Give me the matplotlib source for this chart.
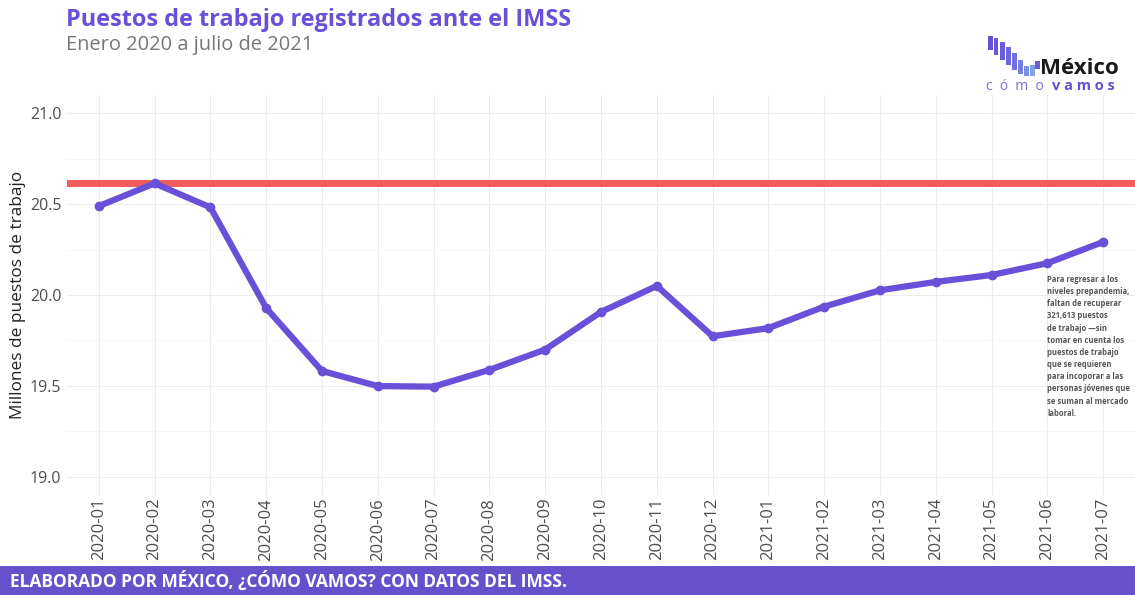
import matplotlib
matplotlib.use("Agg")
import matplotlib.pyplot as plt
from matplotlib.patches import Rectangle
import numpy as np

months = ["2020-01","2020-02","2020-03","2020-04","2020-05","2020-06","2020-07",
          "2020-08","2020-09","2020-10","2020-11","2020-12","2021-01","2021-02",
          "2021-03","2021-04","2021-05","2021-06","2021-07"]
empleos = [20.489, 20.614, 20.482, 19.928, 19.582, 19.499, 19.496, 19.588, 19.700,
           19.907, 20.050, 19.773, 19.818, 19.936, 20.026, 20.072, 20.110, 20.175, 20.292]
nivel_prepandemia = 20.6135
yticks = [19.0, 19.5, 20.0, 20.5, 21.0]

FONT = ["Open Sans", "DejaVu Sans"]
plt.rcParams["font.family"] = FONT

purple = "#6A4FD8"
red = "#F25C5C"
gray_txt = "#4d4d4d"

fig = plt.figure(figsize=(11.35, 5.95), dpi=100)
ax = fig.add_axes([67/1135, 100/595, 1 - 67/1135, 400/595])

x = np.arange(len(months))
ax.axhline(nivel_prepandemia, color=red, lw=5, zorder=2)
ax.plot(x, empleos, color=purple, lw=4.5, marker="o", ms=6, zorder=3,
        solid_capstyle="round", solid_joinstyle="round")

ax.set_xlim(-0.57, len(months) - 1 + 0.57)
ax.set_ylim(18.9, 21.1)
ax.set_xticks(x)
ax.set_xticklabels(months, rotation=90, fontsize=12, color=gray_txt)
ax.set_yticks(yticks)
ax.set_yticklabels([f"{v:.1f}" for v in yticks], fontsize=11.5, color=gray_txt)
ax.set_yticks([18.75 + 0.5 * i for i in range(1, 5)], minor=True)
ax.tick_params(axis="both", length=0, pad=4)
ax.tick_params(axis="x", pad=2)
ax.tick_params(axis="y", which="minor", length=0)
ax.grid(True, which="major", color="#ebebeb", lw=0.8)
ax.grid(True, which="minor", axis="y", color="#f5f5f5", lw=0.6)
for s in ax.spines.values():
    s.set_visible(False)
ax.set_ylabel("Millones de puestos de trabajo", fontsize=12.4, color="#222222", labelpad=3)

# annotation
nota = ("Para regresar a los\nniveles prepandemia,\nfaltan de recuperar\n321,613 puestos\n"
        "de trabajo —sin\ntomar en cuenta los\npuestos de trabajo\nque se requieren\n"
        "para incoporar a las\npersonas jóvenes que\nse suman al mercado\nlaboral.")
fig.text(1047/1135, 1 - 275/595, nota, fontsize=5.5, fontweight="bold", color="#555555",
         va="top", ha="left", linespacing=1.45)

# titles
fig.text(66/1135, 1 - 20/595, "Puestos de trabajo registrados ante el IMSS", fontsize=16.9,
         fontweight="bold", color=purple, va="center", ha="left")
fig.text(66/1135, 1 - 45/595, "Enero 2020 a julio de 2021", fontsize=14.4,
         color="#777777", va="center", ha="left")

# footer banner
fig.patches.append(Rectangle((0, 0), 1, 29/595, transform=fig.transFigure,
                             facecolor="#6650CC", edgecolor="none", zorder=0))
fig.text(10/1135, 14/595, "ELABORADO POR MÉXICO, ¿CÓMO VAMOS? CON DATOS DEL IMSS.",
         fontsize=12.5, fontweight="bold", color="white", va="center", ha="left")

# logo
bar_x = [988, 994, 1000, 1006, 1012, 1018, 1024, 1030, 1035]
bar_top = [36, 38, 42, 47, 53, 60, 66, 65, 61]
bar_bot = [50, 55, 60, 65, 70, 74, 76, 76, 69]
cols = ["#6A4FD8", "#6B55DA", "#6C5CDC", "#6E66DE", "#7070E0", "#7480E2", "#7A90E4", "#80A0E6", "#6A60D0"]
for bx, bt, bb, c in zip(bar_x, bar_top, bar_bot, cols):
    fig.patches.append(Rectangle((bx/1135, 1 - bb/595), 4.5/1135, (bb - bt)/595,
                                 transform=fig.transFigure, facecolor=c, edgecolor="none"))
fig.text(1040/1135, 1 - 69/595, "México", fontsize=16, fontweight="bold", color="#1a1a1a",
         va="center", ha="left")
fig.text(986/1135, 1 - 86/595, "c  ó  m  o", fontsize=10, color="#7a6fd0", va="center", ha="left")
fig.text(1052/1135, 1 - 86/595, "v a m o s", fontsize=10.5, fontweight="bold", color="#6650CC",
         va="center", ha="left")

fig.savefig("out.png", dpi=100, facecolor="white")
